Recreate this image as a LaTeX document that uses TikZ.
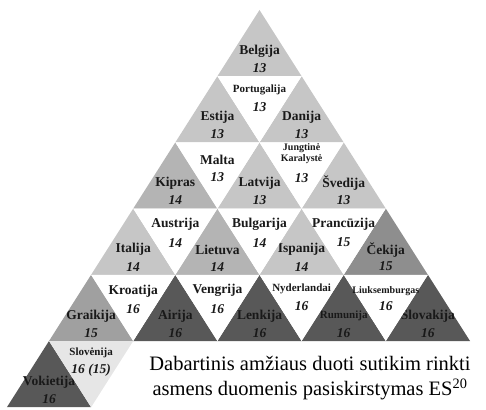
\documentclass[tikz,border=0pt]{standalone}
\usepackage{fontspec}
\setmainfont{Liberation Serif}
\definecolor{gthirteen}{HTML}{C6C6C6}
\definecolor{gfourteen}{HTML}{B4B4B4}
\definecolor{gfifteen}{HTML}{A0A0A0}
\definecolor{gczech}{HTML}{8E8E8E}
\definecolor{gsixteen}{HTML}{585858}
\definecolor{gslovenia}{HTML}{E6E6E6}
\tikzset{
  cell/.style={inner sep=0pt, align=center, text=black!90},
  nm/.style={cell, font=\fontsize{13.5}{14}\selectfont\bfseries},
  nmsmall/.style={cell, font=\fontsize{11}{12}\selectfont\bfseries},
  nmtiny/.style={cell, font=\fontsize{10}{11}\selectfont\bfseries},
  val/.style={cell, font=\fontsize{13.5}{14}\selectfont\bfseries\itshape},
  caption/.style={inner sep=0pt, align=center, font=\fontsize{20.5}{25.5}\selectfont},
}
\begin{document}
\begin{tikzpicture}[x=1pt, y=-1pt]
    \useasboundingbox (0,0) rectangle (486,409);

    % Upward triangles: row/index/colour/style/name/value
    \foreach \r/\i/\c/\f/\n/\v [count=\k] in {
        0/0/gthirteen/nm/Belgija/13,
        1/0/gthirteen/nm/Estija/13, 1/1/gthirteen/nm/Danija/13,
        2/0/gfourteen/nm/Kipras/14, 2/1/gthirteen/nm/Latvija/13, 2/2/gthirteen/nm/Švedija/13,
        3/0/gthirteen/nm/Italija/14, 3/1/gfourteen/nm/Lietuva/14, 3/2/gthirteen/nm/Ispanija/14, 3/3/gczech/nm/Čekija/15,
        4/0/gfifteen/nm/Graikija/15, 4/1/gsixteen/nm/Airija/16, 4/2/gsixteen/nm/Lenkija/16,
        4/3/gsixteen/nmsmall/Rumunija/16, 4/4/gsixteen/nm/Slovakija/16,
        5/0/gsixteen/nm/Vokietija/16}{
        \pgfmathsetmacro\ax{259.5-\r*42.1+\i*84.2}
        \pgfmathsetmacro\yt{10+\r*66.2}
        \fill[\c] (\ax,\yt) -- ++(-42.1,66.2) -- ++(84.2,0) -- cycle;
        \node[\f] (up\k) at (\ax,\yt+41) {\n};
        \node[val] (up\k v) at (\ax,\yt+58) {\v};
    }

    % Downward triangles: row/index/colour/style/name/value/name-y/value-y
    \foreach \r/\j/\c/\f/\n/\v/\dy/\dv [count=\k] in {
        1/0/white/nmsmall/Portugalija/13/14/31,
        2/0/white/nm/Malta/13/17/35, 2/1/white/nmtiny/{Jungtinė\\Karalystė}/13/11/36,
        3/0/white/nm/Austrija/14/16/34, 3/1/white/nm/Bulgarija/14/16/34, 3/2/white/nm/Prancūzija/15/16/34,
        4/0/white/nm/Kroatija/16/16/34, 4/1/white/nm/Vengrija/16/16/34,
        4/2/white/nmsmall/Nyderlandai/16/14/31, 4/3/white/nmtiny/Liuksemburgas/16/16/31,
        5/0/gslovenia/nmsmall/Slovėnija/{16 (15)}/12/29}{
        \pgfmathsetmacro\dx{259.5-\r*42.1+\j*84.2+42.1}
        \pgfmathsetmacro\yt{10+\r*66.2}
        \fill[\c] (\dx,\yt+66.2) -- ++(-42.1,-66.2) -- ++(84.2,0) -- cycle;
        \node[\f] (dn\k) at (\dx,\yt+\dy) {\n};
        \node[val] (dn\k v) at (\dx,\yt+\dv) {\v};
    }

    % Caption
    \node[caption, anchor=north] (title) at (310,356)
        {Dabartinis amžiaus duoti sutikim rinkti\\asmens duomenis pasiskirstymas ES\textsuperscript{20}};
\end{tikzpicture}
\end{document}
